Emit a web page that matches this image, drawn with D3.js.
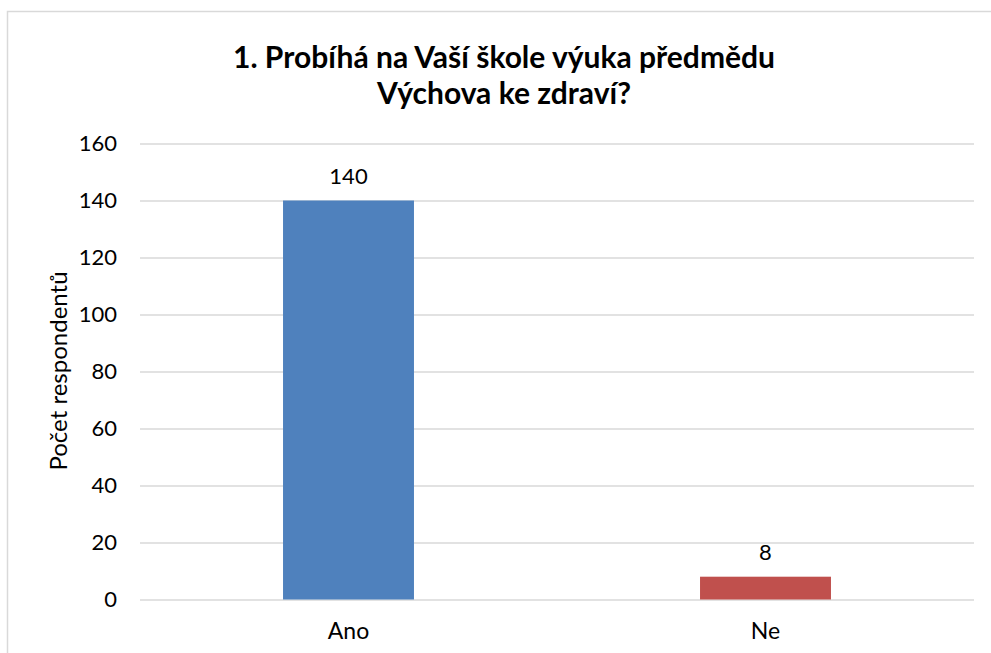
<!DOCTYPE html>
<html>
<head>
<meta charset="utf-8">
<script src="https://cdn.jsdelivr.net/npm/d3@7"></script>
<style>
  body { margin: 0; background: #fff; }
  svg text { font-family: Lato, "Open Sans", sans-serif; fill: #000; }
</style>
</head>
<body>
<svg width="991" height="653"></svg>
<script>
let categories = ["Ano", "Ne"];
let counts = [140, 8];
let colors = ["#4F81BD", "#C0504D"];
let yTicks = [0, 20, 40, 60, 80, 100, 120, 140, 160];
let titleLines = ["1. Probíhá na Vaší škole výuka předmědu", "Výchova ke zdraví?"];
let yTitle = "Počet respondentů";

let svg = d3.select("svg"),
    margin = {top: 143.5, right: 17, bottom: 53.5, left: 140},
    width = +svg.attr("width") - margin.left - margin.right,
    height = +svg.attr("height") - margin.top - margin.bottom;

// chart frame (right and bottom edges run off the page like the source)
svg.append("rect")
    .attr("x", 7.5).attr("y", 11.5)
    .attr("width", 1100).attr("height", 800)
    .attr("fill", "none")
    .attr("stroke", "#d9d9d9")
    .attr("stroke-width", 1.5);

let x = d3.scaleBand()
    .domain(categories)
    .range([0, width])
    .paddingInner(0.686)
    .paddingOuter(0.343);

let y = d3.scaleLinear()
    .domain([0, 160])
    .range([height, 0]);

let g = svg.append("g")
    .attr("transform", "translate(" + margin.left + "," + margin.top + ")");

// gridlines
g.append("g")
    .attr("class", "grid")
    .call(d3.axisLeft(y).tickValues(yTicks).tickSize(-width).tickFormat(""))
    .call(s => s.select(".domain").remove())
    .call(s => s.selectAll("line").attr("stroke", "#d9d9d9").attr("stroke-width", 1.5));

// y axis labels
g.append("g")
    .call(d3.axisLeft(y).tickValues(yTicks).tickSize(0).tickPadding(23))
    .call(s => s.select(".domain").remove())
    .call(s => s.selectAll("text").attr("font-size", 22).style("font-family", "Lato, sans-serif"));

// x axis labels
g.append("g")
    .attr("transform", "translate(0," + height + ")")
    .call(d3.axisBottom(x).tickSize(0).tickPadding(23))
    .call(s => s.select(".domain").remove())
    .call(s => s.selectAll("text").attr("font-size", 23).style("font-family", "Lato, sans-serif"));

let data = categories.map((c, i) => ({cat: c, value: counts[i], color: colors[i]}));

g.selectAll(".bar")
    .data(data)
    .enter().append("rect")
    .attr("class", "bar")
    .attr("x", d => x(d.cat))
    .attr("y", d => y(d.value))
    .attr("width", x.bandwidth())
    .attr("height", d => height - y(d.value))
    .attr("fill", d => d.color);

g.selectAll(".value")
    .data(data)
    .enter().append("text")
    .attr("class", "value")
    .attr("x", d => x(d.cat) + x.bandwidth() / 2)
    .attr("y", d => y(d.value) - 17)
    .attr("text-anchor", "middle")
    .attr("font-size", 22)
    .text(d => d.value);

// title
svg.append("g").selectAll("text")
    .data(titleLines)
    .enter().append("text")
    .attr("x", 504)
    .attr("y", (d, i) => 68 + i * 36)
    .attr("text-anchor", "middle")
    .attr("font-size", 30)
    .attr("font-weight", "bold")
    .text(d => d);

// y axis title
svg.append("text")
    .attr("transform", "translate(67," + 371 + ") rotate(-90)")
    .attr("text-anchor", "middle")
    .attr("font-size", 24)
    .text(yTitle);
</script>
</body>
</html>
